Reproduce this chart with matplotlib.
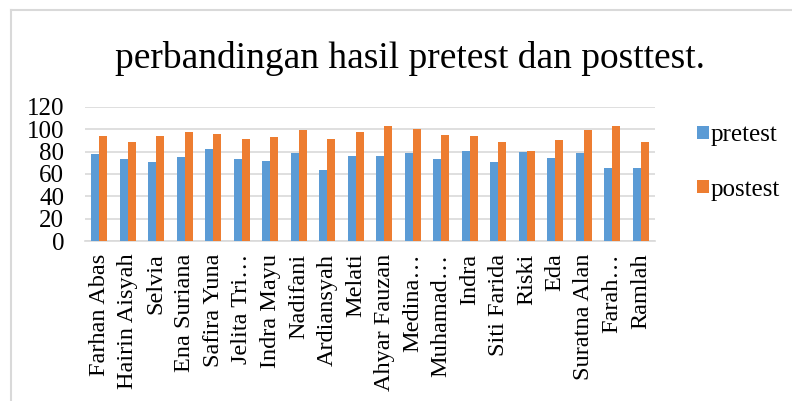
import matplotlib
matplotlib.use("Agg")
import matplotlib.pyplot as plt
import numpy as np

names = ["Farhan Abas", "Hairin Aisyah", "Selvia", "Ena Suriana", "Safira Yuna",
         "Jelita Tri…", "Indra Mayu", "Nadifani", "Ardiansyah", "Melati",
         "Ahyar Fauzan", "Medina…", "Muhamad…", "Indra", "Siti Farida",
         "Riski", "Eda", "Suratna Alan", "Farah…", "Ramlah"]
pretest = [78, 73, 71, 75, 82, 73, 72, 79, 64, 76,
           76, 79, 73, 81, 71, 80, 74, 79, 65, 65]
posttest = [94, 89, 94, 98, 96, 91, 93, 99, 91, 98,
            103, 100, 95, 94, 89, 81, 90, 99, 103, 89]
yticks = [0, 20, 40, 60, 80, 100, 120]

plt.rcParams["font.family"] = ["Liberation Serif", "DejaVu Serif"]

fig = plt.figure(figsize=(7.92, 4.01), dpi=100)
ax = fig.add_axes([85 / 792, 160 / 401, 570 / 792, 134 / 401])

x = np.arange(len(names))
w = 0.28
ax.bar(x - w / 2, pretest, w, color="#5B9BD5", label="pretest", zorder=3)
ax.bar(x + w / 2, posttest, w, color="#ED7D31", label="postest", zorder=3)

ax.set_xlim(-0.5, len(names) - 0.5)
ax.set_ylim(0, 120)
ax.set_yticks(yticks)
ax.set_yticklabels([str(t) for t in yticks], fontsize=18)
ax.set_xticks(x)
ax.set_xticklabels(names, rotation=90, fontsize=17.5)
ax.tick_params(axis="x", length=0, pad=9)
ax.tick_params(axis="y", length=0, pad=15)
ax.yaxis.grid(True, color="#D9D9D9", linewidth=1.2, zorder=0)
for s in ["top", "right", "left"]:
    ax.spines[s].set_visible(False)
ax.spines["bottom"].set_color("#D9D9D9")
ax.spines["bottom"].set_linewidth(1.2)

fig.text(0.518, 0.855, "perbandingan hasil pretest dan posttest.", ha="center",
         va="center", fontsize=27)

ax.legend(loc="upper left", bbox_to_anchor=(1.035, 1.04), frameon=False,
          fontsize=18, handlelength=0.45, handleheight=0.45, handletextpad=0.08,
          labelspacing=1.3)

# chart-area border (only top and left edges are visible in the crop)
fig.add_artist(plt.Line2D([11 / 792, 1], [1 - 10 / 401, 1 - 10 / 401],
                          color="#D9D9D9", linewidth=1.5, transform=fig.transFigure))
fig.add_artist(plt.Line2D([11 / 792, 11 / 792], [0, 1 - 10 / 401],
                          color="#D9D9D9", linewidth=1.5, transform=fig.transFigure))

fig.savefig("out.png", dpi=100)
